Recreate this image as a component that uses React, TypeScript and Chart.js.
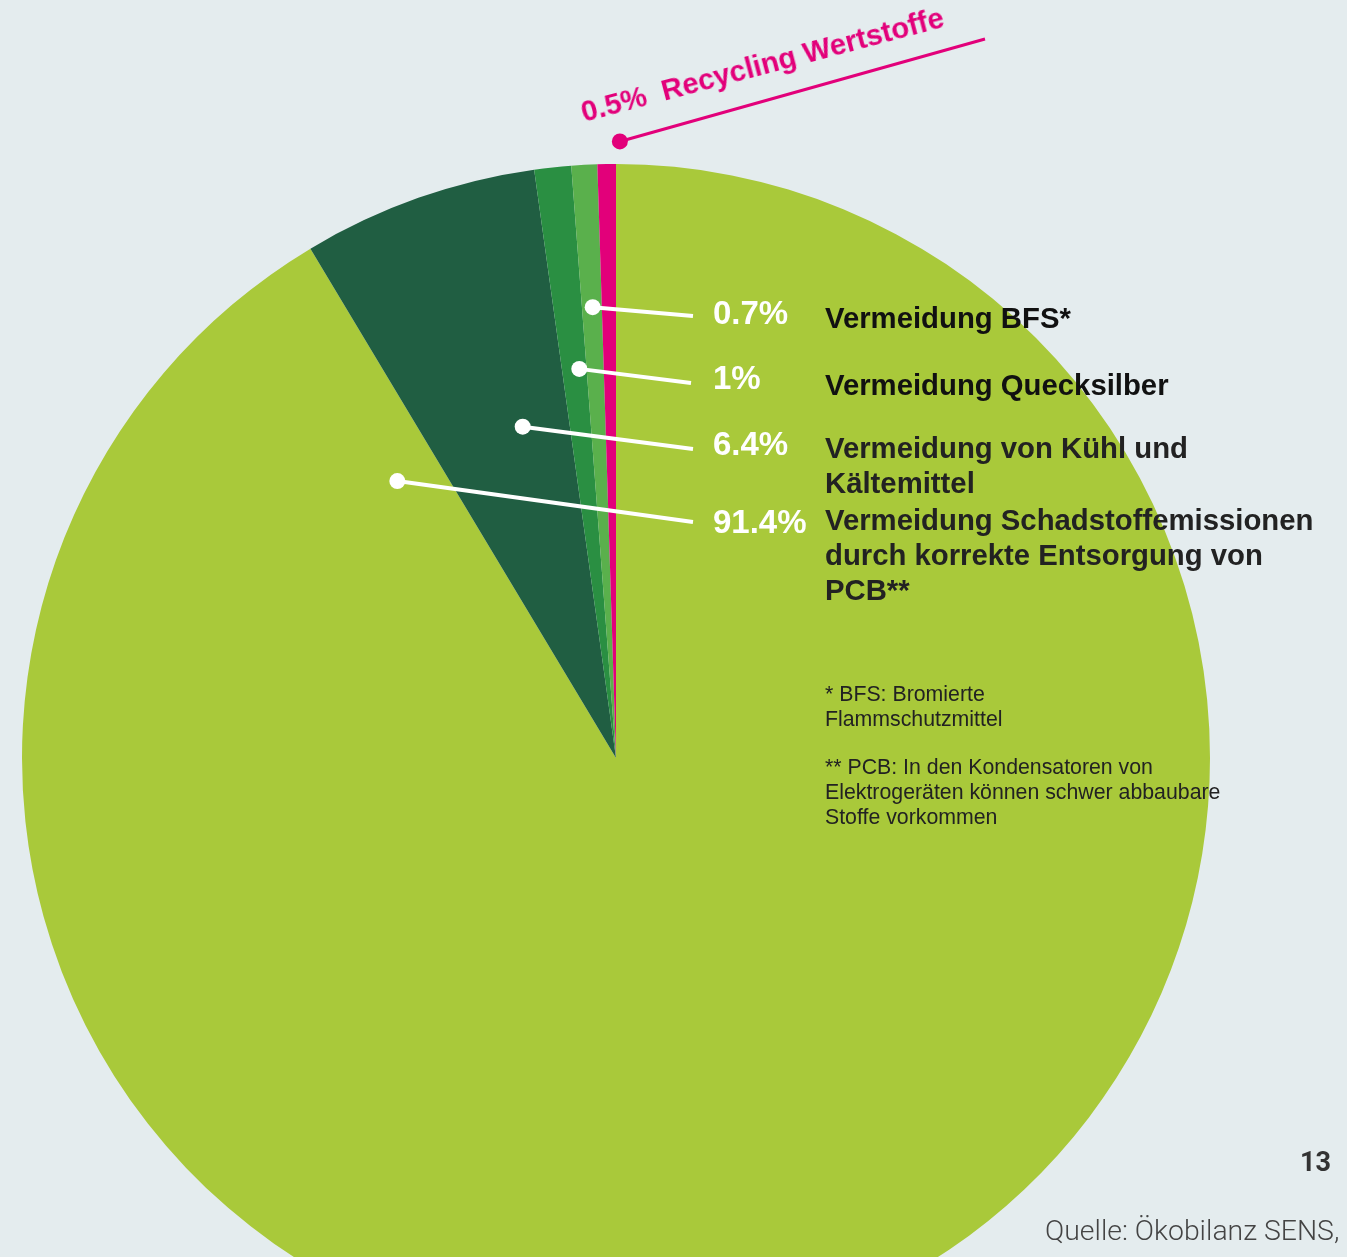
import React, { useEffect, useRef } from "react";
import { Chart, registerables } from "chart.js";

Chart.register(...registerables);

// ---- data ----
const categories = [
  "Vermeidung Schadstoffemissionen durch korrekte Entsorgung von PCB**",
  "Vermeidung von Kühl und Kältemittel",
  "Vermeidung Quecksilber",
  "Vermeidung BFS*",
  "Recycling Wertstoffe",
];
const shares = [91.4, 6.4, 1, 0.7, 0.5];
const percentLabels = ["91.4%", "6.4%", "1%", "0.7%", "0.5%"];
const labelLines = [
  ["Vermeidung Schadstoffemissionen", "durch korrekte Entsorgung von", "PCB**"],
  ["Vermeidung von Kühl und", "Kältemittel"],
  ["Vermeidung Quecksilber"],
  ["Vermeidung BFS*"],
  ["Recycling Wertstoffe"],
];
const footnotes = [
  ["* BFS: Bromierte", "Flammschutzmittel"],
  ["** PCB: In den Kondensatoren von", "Elektrogeräten können schwer abbaubare", "Stoffe vorkommen"],
];
const pageNumber = "13";
const sourceText = "Quelle: Ökobilanz SENS,";

// ---- styles ----
const sliceColors = ["#a9c93a", "#205e42", "#2a8f42", "#5ab04c", "#e2007a"];
const BG = "#e4ecee";
const PINK = "#e2007a";
const FONT = '"Liberation Sans", Arial, Helvetica, sans-serif';

// leader-line layout: anchor as fraction along slice (t) and fraction of radius (r); line end in px
const leaderLayout = [
  { t: 0.9777, r: 0.594, ex: 693, ey: 522, color: "#ffffff", width: 4, dot: 8 },
  { t: 0.661, r: 0.5795, ex: 693, ey: 449, color: "#ffffff", width: 4, dot: 8 },
  { t: 0.703, r: 0.658, ex: 691, ey: 383, color: "#ffffff", width: 4, dot: 8 },
  { t: 0.54, r: 0.76, ex: 693, ey: 316, color: "#ffffff", width: 4, dot: 8 },
  { t: 1.2, r: 1.038, ex: 985, ey: 39, color: PINK, width: 3, dot: 8 },
];
const pctTops = [505, 427, 360.6, 295.6];
const labelTops = [501.5, 429.8, 366.5, 299.8];
const labelColors = ["#222", "#222", "#111", "#111"];

const leaderPlugin = {
  id: "leaders",
  afterDatasetsDraw(chart: any) {
    const ctx = chart.ctx;
    const meta = chart.getDatasetMeta(0);
    meta.data.forEach((arc: any, i: number) => {
      const L = leaderLayout[i];
      if (!L) return;
      const p = arc.getProps(["x", "y", "startAngle", "endAngle", "outerRadius"], true);
      const a = p.startAngle + L.t * (p.endAngle - p.startAngle);
      const dx = p.x + Math.cos(a) * p.outerRadius * L.r;
      const dy = p.y + Math.sin(a) * p.outerRadius * L.r;
      ctx.save();
      ctx.strokeStyle = L.color;
      ctx.lineWidth = L.width;
      ctx.lineCap = "butt";
      ctx.beginPath();
      ctx.moveTo(dx, dy);
      ctx.lineTo(L.ex, L.ey);
      ctx.stroke();
      ctx.fillStyle = L.color;
      ctx.beginPath();
      ctx.arc(dx, dy, L.dot, 0, Math.PI * 2);
      ctx.fill();
      ctx.restore();
    });
  },
};

const W = 1347;
const H = 1257;
const CANVAS_H = 1360;

function PieChart() {
  const ref = useRef<HTMLCanvasElement | null>(null);
  useEffect(() => {
    if (!ref.current) return;
    const chart = new Chart(ref.current, {
      type: "pie",
      data: {
        labels: categories,
        datasets: [
          {
            data: shares,
            backgroundColor: sliceColors,
            borderWidth: 0,
            hoverOffset: 0,
            offset: 0,
          } as any,
        ],
      },
      options: {
        responsive: false,
        animation: false,
        events: [],
        devicePixelRatio: 1,
        layout: { padding: { left: 22, right: 137, top: 164, bottom: 8 } },
        plugins: { legend: { display: false }, tooltip: { enabled: false } },
      } as any,
      plugins: [leaderPlugin],
    });
    return () => chart.destroy();
  }, []);
  return (
    <canvas
      ref={ref}
      width={W}
      height={CANVAS_H}
      style={{ position: "absolute", left: 0, top: 0, width: W, height: CANVAS_H }}
    />
  );
}

export default function App() {
  return (
    <div
      style={{
        position: "fixed",
        left: 0,
        top: 0,
        width: W,
        height: H,
        overflow: "hidden",
        background: BG,
        fontFamily: FONT,
      }}
    >
      <PieChart />
      {pctTops.map((top, i) => (
        <div
          key={"p" + i}
          style={{
            position: "absolute",
            left: 713,
            top,
            fontSize: 33,
            lineHeight: "33px",
            fontWeight: 700,
            color: "#ffffff",
            whiteSpace: "pre",
          }}
        >
          {percentLabels[i]}
        </div>
      ))}
      {labelTops.map((top, i) => (
        <div
          key={"l" + i}
          style={{
            position: "absolute",
            left: 825,
            top,
            fontSize: 29.3,
            lineHeight: "35px",
            fontWeight: 700,
            color: labelColors[i],
            whiteSpace: "pre",
          }}
        >
          {labelLines[i].map((ln, j) => (
            <div key={j}>{ln}</div>
          ))}
        </div>
      ))}
      <div
        style={{
          position: "absolute",
          left: 584,
          top: 96.9,
          fontSize: 29.3,
          lineHeight: "29.3px",
          fontWeight: 700,
          color: PINK,
          whiteSpace: "pre",
          transformOrigin: "0px 24.8px",
          transform: "rotate(-14.8deg)",
        }}
      >
        {percentLabels[4] + "  " + labelLines[4][0]}
      </div>
      {footnotes.map((lines, i) => (
        <div
          key={"f" + i}
          style={{
            position: "absolute",
            left: 825,
            top: i === 0 ? 681.6 : 754.6,
            fontSize: 21.3,
            lineHeight: "25.3px",
            color: "#222",
            whiteSpace: "pre",
          }}
        >
          {lines.map((ln, j) => (
            <div key={j}>{ln}</div>
          ))}
        </div>
      ))}
      <div
        style={{
          position: "absolute",
          left: 1300,
          top: 1147,
          fontFamily: "Roboto, sans-serif",
          fontSize: 27,
          lineHeight: "30px",
          fontWeight: 700,
          color: "#333",
        }}
      >
        {pageNumber}
      </div>
      <div
        style={{
          position: "absolute",
          left: 1045,
          top: 1216.4,
          fontFamily: "Roboto, sans-serif",
          fontSize: 28.4,
          lineHeight: "30px",
          fontWeight: 300,
          color: "#444",
          whiteSpace: "pre",
        }}
      >
        {sourceText}
      </div>
    </div>
  );
}
